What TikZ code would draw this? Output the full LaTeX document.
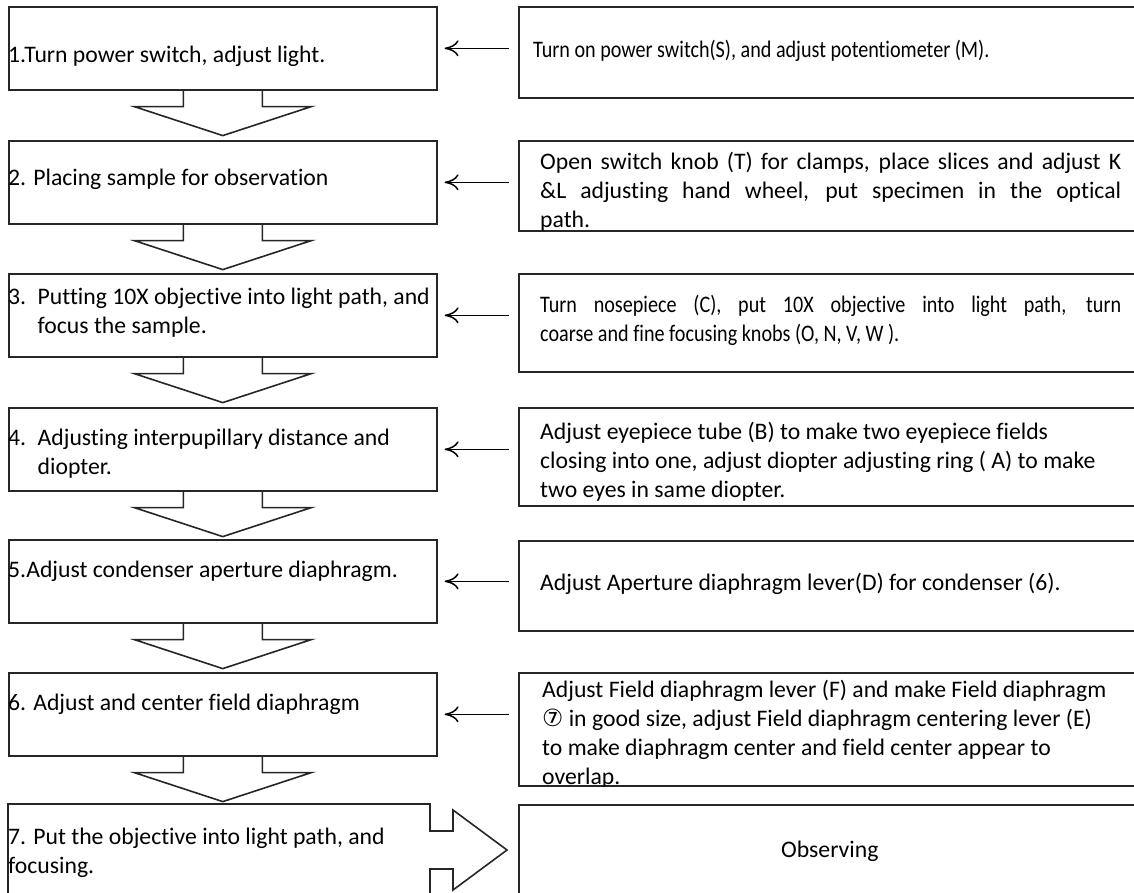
\documentclass[tikz,border=0pt]{standalone}
\usepackage{fontspec}
\setmainfont{Carlito}[Ligatures=NoCommon]
\newfontfamily\circfont{DejaVu Sans}
\newcommand{\narrowfont}{\addfontfeature{FakeStretch=0.85}}
\usetikzlibrary{arrows.meta,calc}
\tikzset{
  stepbox/.style={rectangle,draw=black!85,line width=1.6pt,
    minimum width=428pt,minimum height=83pt,inner sep=0pt,anchor=north west},
  notebox/.style={rectangle,draw=black!85,line width=1.6pt,
    minimum width=622pt,inner sep=0pt,anchor=north west},
  steptext/.style={anchor=base west,inner sep=0pt,text width=428pt,
    align=flush left},
  notetext/.style={anchor=base west,inner sep=0pt,text width=581pt,align=#1},
  notetext/.default=flush left,
  feedarrow/.style={line width=1.5pt,
    -{Computer Modern Rightarrow[length=14pt,width=16pt,line width=1.5pt]}},
  blockarrow/.style={line width=1.6pt,draw=black!85,line join=miter}
}

\begin{document}
\begin{tikzpicture}[x=1pt,y=-1pt,font=\fontsize{23.7}{29}\selectfont]
  \newcommand{\downblock}[1]{%
    \draw[blockarrow] ($(#1.south)+(-39.5,0)$) -- ++(0,16) -- ++(-49,0)
      -- ($(#1.south)+(0,45)$) -- ++(88.5,-29) -- ++(-49,0) -- ++(0,-16);}

  \useasboundingbox (0,0) rectangle (1134,892);

  \node[stepbox] (s1) at (8,6) {};
  \node[stepbox] (s2) at (8,140) {};
  \node[stepbox] (s3) at (8,273) {};
  \node[stepbox] (s4) at (8,407) {};
  \node[stepbox] (s5) at (8,539) {};
  \node[stepbox] (s6) at (8,672) {};
  \draw[blockarrow] (8,804) -- (430,804) -- (430,831) -- (453,831)
    -- (453,810) -- (507,850) -- (453,890) -- (453,869) -- (430,869)
    -- (430,896) -- (8,896) -- cycle;

  \foreach \i in {1,...,6} {\downblock{s\i}}

  \node[steptext] (t1) at (8,62) {1.Turn power switch, adjust light.};
  \node[steptext] (t2) at (8,185) {2. Placing sample for observation};
  \node[steptext] (t3) at (8,304)
    {\makebox[29.5pt][l]{3.}Putting 10X objective into light path, and\\
     \hspace*{29.5pt}focus the sample.};
  \node[steptext] (t4) at (8,445)
    {\makebox[29.5pt][l]{4.}Adjusting interpupillary distance and\\
     \hspace*{29.5pt}diopter.};
  \node[steptext] (t5) at (8,577) {5.Adjust condenser aperture diaphragm.};
  \node[steptext] (t6) at (8,710) {6. Adjust and center field diaphragm};
  \node[steptext] (t7) at (8,844)
    {7. Put the objective into light path, and\\focusing.};

  \node[notebox,minimum height=91pt] (r1) at (518,6) {};
  \node[notebox,minimum height=90pt] (r2) at (518,140) {};
  \node[notebox,minimum height=98pt] (r3) at (518,273) {};
  \node[notebox,minimum height=98pt] (r4) at (518,407) {};
  \node[notebox,minimum height=90pt] (r5) at (518,540) {};
  \node[notebox,minimum height=113pt] (r6) at (518,672) {};
  \node[notebox,minimum height=92pt] (r7) at (518,804) {Observing};

  \foreach \i in {1,...,6}
    \draw[feedarrow] ($(r\i.west |- s\i.east)+(-9,0)$) -- ($(s\i.east)+(7,0)$);

  \node[notetext] (n1) at (533,57)
    {\narrowfont Turn on power switch(S), and adjust potentiometer (M).};
  \node[notetext=justify] (n2) at (540,169)
    {Open switch knob (T) for clamps, place slices and adjust K\linebreak
     \&L adjusting hand wheel, put specimen in the optical\linebreak path.};
  \node[notetext=justify] (n3) at (540,312)
    {\narrowfont Turn nosepiece (C), put 10X objective into light path, turn\linebreak
     coarse and fine focusing knobs (O, N, V, W ).};
  \node[notetext] (n4) at (540,439)
    {Adjust eyepiece tube (B) to make two eyepiece fields\\
     closing into one, adjust diopter adjusting ring ( A) to make\\
     two eyes in same diopter.};
  \node[notetext] (n5) at (540,590)
    {Adjust Aperture diaphragm lever(D) for condenser (6).};
  \begin{scope}
    \clip (r6.north west) rectangle (r6.south east);
    \node[notetext] (n6) at (542,697)
      {Adjust Field diaphragm lever (F) and make Field diaphragm\\
       {\circfont ⑦} in good size, adjust Field diaphragm centering lever (E)\\
       to make diaphragm center and field center appear to\\
       overlap.};
  \end{scope}
\end{tikzpicture}
\end{document}
